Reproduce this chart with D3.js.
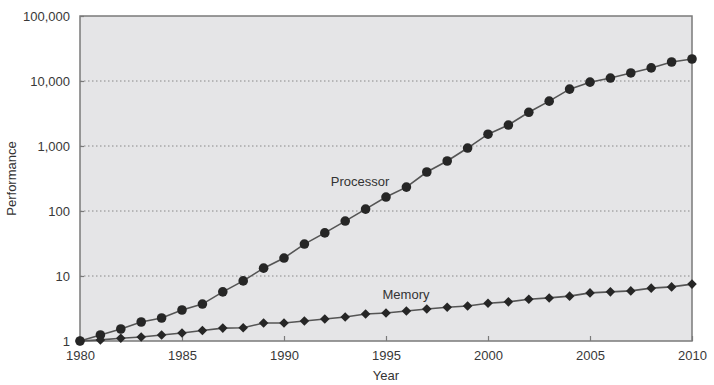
<!DOCTYPE html>
<head>
    <meta charset="utf-8">
    <script src="https://d3js.org/d3.v7.min.js"></script>
    <style>
        body { margin: 0; background: #fff; }
        text { font-family: "Liberation Sans", Arial, sans-serif; fill: #333; }
    </style>
</head>
<body>
<script>
    ////////////// Data //////////////

    const years = d3.range(1980, 2011)

    const processor = [1, 1.24, 1.53, 1.96, 2.26, 3.0, 3.7, 5.7, 8.4, 13.2,
        18.9, 31, 46, 70, 107, 164, 233, 398, 588, 930,
        1520, 2100, 3300, 4900, 7500, 9600, 11100, 13300, 15900, 19600, 21800]

    const memory = [1, 1.04, 1.1, 1.15, 1.24, 1.33, 1.45, 1.58, 1.6, 1.89,
        1.89, 2.03, 2.18, 2.34, 2.6, 2.7, 2.9, 3.1, 3.3, 3.45,
        3.8, 4.0, 4.4, 4.6, 4.9, 5.5, 5.7, 5.9, 6.5, 6.8, 7.5]

    const yTicks = [1, 10, 100, 1000, 10000, 100000]
    const xTicks = [1980, 1985, 1990, 1995, 2000, 2005, 2010]

    ////////////// SVG //////////////

    let width = 714,
        height = 385
    let margin = { left: 80, right: 22, top: 16, bottom: 44 }

    let svg = d3.select("body").append("svg")
        .attr("width", width)
        .attr("height", height)

    const x_scale = d3.scaleLinear()
        .domain([1980, 2010])
        .range([margin.left, width - margin.right])

    const y_scale = d3.scaleLog()
        .domain([1, 100000])
        .range([height - margin.bottom, margin.top])

    //plot background + frame
    svg.append("rect")
        .attr("x", x_scale(1980))
        .attr("y", y_scale(100000))
        .attr("width", x_scale(2010) - x_scale(1980))
        .attr("height", y_scale(1) - y_scale(100000))
        .style("fill", "#e5e5e7")
        .style("stroke", "#7a7a7a")
        .style("stroke-width", 1.5)

    //dotted gridlines
    svg.append("g").selectAll("line")
        .data(yTicks.slice(1, -1))
        .enter().append("line")
        .attr("x1", x_scale(1980))
        .attr("x2", x_scale(2010))
        .attr("y1", d => y_scale(d))
        .attr("y2", d => y_scale(d))
        .style("stroke", "#888")
        .style("stroke-width", 1)
        .style("stroke-dasharray", "1.5,2.5")

    ////////////// Axes //////////////

    let xAxis = svg.append("g")
        .attr("transform", `translate(0,${y_scale(1)})`)
        .call(d3.axisBottom(x_scale).tickValues(xTicks).tickFormat(d3.format("d"))
            .tickSizeInner(-5).tickSizeOuter(0).tickPadding(10))
    xAxis.select(".domain").remove()
    xAxis.selectAll("line").style("stroke", "#7a7a7a").style("stroke-width", 1.2)
    xAxis.selectAll("text").style("font-size", "13px").style("fill", "#383838")

    let yAxis = svg.append("g")
        .attr("transform", `translate(${x_scale(1980)},0)`)
        .call(d3.axisLeft(y_scale).tickValues(yTicks).tickFormat(d3.format(","))
            .tickSizeInner(-4).tickSizeOuter(0).tickPadding(10))
    yAxis.select(".domain").remove()
    yAxis.selectAll("line").style("stroke", "#7a7a7a").style("stroke-width", 1.2)
    yAxis.selectAll("text").style("font-size", "13px").style("fill", "#383838")

    //axis titles
    svg.append("text")
        .attr("x", (x_scale(1980) + x_scale(2010)) / 2)
        .attr("y", 380)
        .attr("text-anchor", "middle")
        .style("font-size", "13px")
        .text("Year")

    svg.append("text")
        .attr("transform", `translate(16,${(y_scale(1) + y_scale(100000)) / 2}) rotate(-90)`)
        .attr("text-anchor", "middle")
        .style("font-size", "13px")
        .text("Performance")

    ////////////// Lines + markers //////////////

    const line = d3.line()
        .x((d, i) => x_scale(years[i]))
        .y(d => y_scale(d))

    svg.append("path").datum(processor)
        .attr("d", line)
        .style("fill", "none")
        .style("stroke", "#555")
        .style("stroke-width", 1.6)

    svg.append("path").datum(memory)
        .attr("d", line)
        .style("fill", "none")
        .style("stroke", "#555")
        .style("stroke-width", 1.6)

    svg.append("g").selectAll("circle")
        .data(processor)
        .enter().append("circle")
        .attr("cx", (d, i) => x_scale(years[i]))
        .attr("cy", d => y_scale(d))
        .attr("r", 4.8)
        .style("fill", "#262626")

    //diamonds = squares turned 45 degrees
    svg.append("g").selectAll("path")
        .data(memory)
        .enter().append("path")
        .attr("d", d3.symbol(d3.symbolSquare, 46))
        .attr("transform", (d, i) => `translate(${x_scale(years[i])},${y_scale(d)}) rotate(45)`)
        .style("fill", "#262626")

    //series labels
    svg.append("text")
        .attr("x", 360)
        .attr("y", 186)
        .attr("text-anchor", "middle")
        .style("font-size", "13px")
        .text("Processor")

    svg.append("text")
        .attr("x", 406)
        .attr("y", 299)
        .attr("text-anchor", "middle")
        .style("font-size", "13px")
        .text("Memory")
</script>
</body>
